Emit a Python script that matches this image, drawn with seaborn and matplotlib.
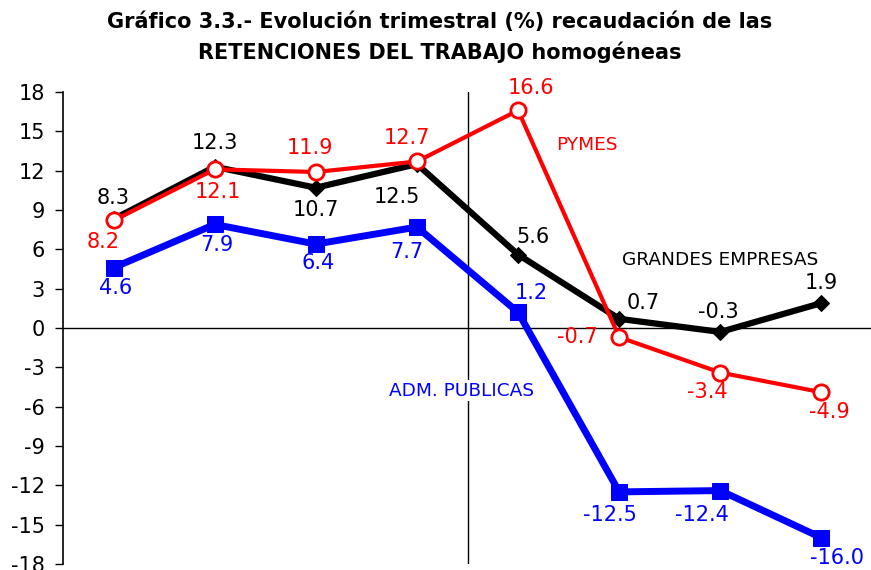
import matplotlib
matplotlib.use('Agg')
import matplotlib.pyplot as plt
import seaborn as sns
import pandas as pd

# ---- data ----
quarters = [0, 1, 2, 3, 4, 5, 6, 7]
grandes = [8.3, 12.3, 10.7, 12.5, 5.6, 0.7, -0.3, 1.9]
pymes = [8.2, 12.1, 11.9, 12.7, 16.6, -0.7, -3.4, -4.9]
adm = [4.6, 7.9, 6.4, 7.7, 1.2, -12.5, -12.4, -16.0]
y_ticks = list(range(-18, 19, 3))
title_l1 = "Gráfico 3.3.- Evolución trimestral (%) recaudación de las"
title_l2 = "RETENCIONES DEL TRABAJO homogéneas"

# label offsets in pixels (dx right, dy down)
off_grandes = [(0, -21), (0, -24), (0, 22), (-20, 33), (15, -18), (24, -16), (-2, -20), (0, -20)]
off_pymes = [(-10, 22), (3, 23), (-6, -24), (-10, -23), (13, -22), (-42, 0), (-13, 19), (8, 20)]
off_adm = [(2, 20), (2, 21), (2, 19), (-10, 25), (13, -19), (-9, 23), (-18, 24), (16, 20)]

sns.set_style('white')
plt.rcParams['font.family'] = ['DejaVu Sans']
plt.rcParams['axes.unicode_minus'] = False
plt.rcParams['text.color'] = 'black'
plt.rcParams['ytick.color'] = 'black'

fig = plt.figure(figsize=(8.71, 5.70), dpi=100)
ax = fig.add_axes([63/871, 6/570, 809/871, 472/570])

df = pd.DataFrame({'q': quarters, 'grandes': grandes, 'pymes': pymes, 'adm': adm})

ax.axhline(0, color='black', lw=1.0, zorder=1)
ax.axvline(3.5, color='black', lw=1.0, zorder=1)

sns.lineplot(data=df, x='q', y='grandes', ax=ax, color='black', lw=4.5,
             marker='D', markersize=8, markeredgecolor='black', zorder=3)
sns.lineplot(data=df, x='q', y='adm', ax=ax, color='#0000FF', lw=5,
             marker='s', markersize=12, markeredgecolor='#0000FF', zorder=3)
sns.lineplot(data=df, x='q', y='pymes', ax=ax, color='#FF0000', lw=3,
             marker='o', markersize=11, markerfacecolor='white',
             markeredgecolor='#FF0000', markeredgewidth=2, zorder=4)

def label(vals, offs, color):
    for x, v, (dx, dy) in zip(quarters, vals, offs):
        ax.annotate(f'{v:.1f}', (x, v), xytext=(dx, -dy), textcoords='offset pixels',
                    ha='center', va='center', fontsize=15, color=color, zorder=6)

label(grandes, off_grandes, 'black')
label(pymes, off_pymes, '#FF0000')
label(adm, off_adm, '#0000FF')

ax.text(4.68, 13.96, 'PYMES', color='#FF0000', fontsize=13.3, ha='center', va='center')
ax.text(6.0, 5.19, 'GRANDES EMPRESAS', color='black', fontsize=13.3, ha='center', va='center')
ax.text(3.44, -4.8, 'ADM. PUBLICAS', color='#0000FF', fontsize=13.3, ha='center', va='center',
        bbox=dict(facecolor='white', edgecolor='none', pad=1), zorder=5)

ax.set_xlim(-0.5, 7.5)
ax.set_ylim(-18, 18)
ax.set_yticks(y_ticks)
ax.set_xticks([])
ax.set_xlabel('')
ax.set_ylabel('')
ax.tick_params(axis='y', left=True, direction='out', length=6, width=1, labelsize=15,
               pad=7, colors='black')
for s in ['top', 'right', 'bottom']:
    ax.spines[s].set_visible(False)
ax.spines['left'].set_color('black')
ax.spines['left'].set_linewidth(1.2)

fig.text(440/871, 1 - 22/570, title_l1, ha='center', va='center', fontsize=15, fontweight='bold')
fig.text(440/871, 1 - 52/570, title_l2, ha='center', va='center', fontsize=15, fontweight='bold')

fig.savefig('out.png', dpi=100)
